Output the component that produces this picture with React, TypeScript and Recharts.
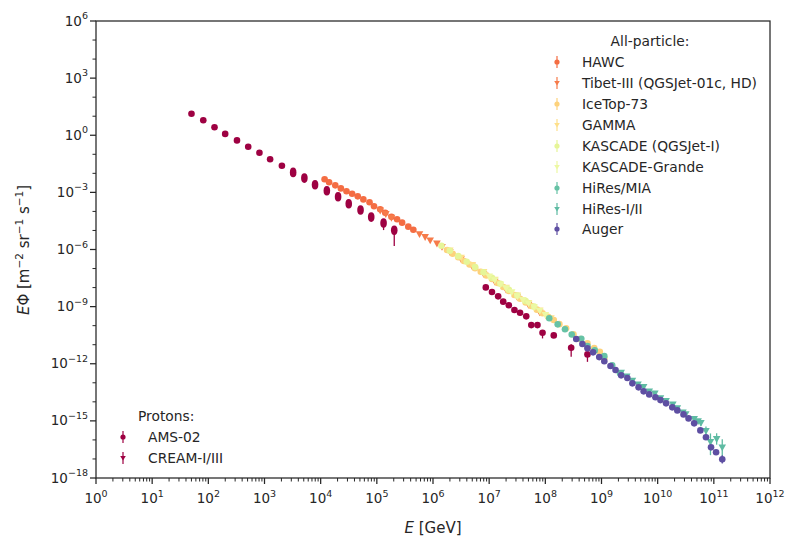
import React from 'react';
import { ScatterChart, Scatter, XAxis, YAxis, ErrorBar } from 'recharts';

// ── Data (log10 E [GeV], log10 EΦ) ──────────────────────────────────────────
const AMS_LOGE = [1.70, 1.91, 2.11, 2.30, 2.51, 2.71, 2.91, 3.10, 3.31];
const AMS_LOGF = [1.13, 0.79, 0.42, 0.07, -0.27, -0.60, -0.92, -1.26, -1.60];

const CREAM_LOGE = [3.51, 3.71, 3.90, 4.11, 4.31, 4.50, 4.71, 4.90, 5.12, 5.31];
const CREAM_LOGF = [-1.95, -2.25, -2.60, -2.91, -3.23, -3.60, -3.93, -4.29, -4.61, -4.99];
const CREAM_DOWN = [0.05, 0.06, 0.07, 0.1, 0.12, 0.15, 0.2, 0.25, 0.37, 0.82];
const CREAM_UP = [0.05, 0.06, 0.07, 0.08, 0.09, 0.1, 0.1, 0.12, 0.19, 0.19];

const PKNEE_LOGE = [6.94, 7.05, 7.16, 7.25, 7.35, 7.45, 7.55, 7.66, 7.75, 7.86, 7.95, 8.15, 8.46, 8.75];
const PKNEE_LOGF = [-7.99, -8.23, -8.46, -8.74, -8.93, -9.18, -9.32, -9.51, -9.97, -9.97, -10.37, -10.51, -11.16, -11.51];
const PKNEE_DOWN = [0.03, 0.03, 0.03, 0.03, 0.03, 0.04, 0.04, 0.05, 0.12, 0.12, 0.3, 0.12, 0.47, 0.39];
const PKNEE_UP = [0.03, 0.03, 0.03, 0.03, 0.03, 0.04, 0.04, 0.05, 0.08, 0.08, 0.12, 0.08, 0.19, 0.14];

const HAWC_LOGE = [4.07, 4.15, 4.26, 4.36, 4.46, 4.56, 4.66, 4.76, 4.87, 4.95, 5.06, 5.15, 5.26, 5.36, 5.45, 5.56, 5.65];
const HAWC_LOGF = [-2.31, -2.47, -2.63, -2.79, -2.94, -3.07, -3.21, -3.37, -3.52, -3.73, -3.89, -4.07, -4.28, -4.41, -4.59, -4.80, -4.96];

const TIBET_LOGE = [5.06, 5.16, 5.26, 5.76, 5.86, 5.95, 6.07, 6.16, 6.3, 6.5, 6.7, 6.9, 7.1, 7.3, 7.5, 7.7, 7.9];
const TIBET_LOGF = [-3.95, -4.13, -4.33, -5.19, -5.34, -5.52, -5.68, -5.86, -6.12, -6.50, -6.90, -7.28, -7.68, -8.10, -8.50, -8.90, -9.30];

const ICETOP_LOGE = [6.25, 6.35, 6.45, 6.55, 6.65, 6.75, 6.85, 6.95, 7.05, 7.15, 7.25, 7.35, 7.45, 7.55, 7.65, 7.75, 7.85, 7.95, 8.05, 8.15, 8.25, 8.37, 8.5, 8.62, 8.75, 8.87, 8.97, 9.05];
const ICETOP_LOGF = [-6.03, -6.22, -6.41, -6.60, -6.79, -6.98, -7.17, -7.36, -7.55, -7.76, -7.97, -8.18, -8.39, -8.59, -8.78, -8.97, -9.16, -9.35, -9.53, -9.70, -9.92, -10.14, -10.45, -10.70, -10.93, -11.18, -11.37, -11.72];

const GAMMA_LOGE = [6.3, 6.5, 6.7, 6.9, 7.1, 7.3, 7.5, 7.7, 7.9, 8.1];
const GAMMA_LOGF = [-6.04, -6.42, -6.81, -7.18, -7.58, -8.00, -8.41, -8.80, -9.20, -9.60];

const KASCADE_LOGE = [6.15, 6.3, 6.45, 6.6, 6.75, 6.9, 7.05, 7.2, 7.35, 7.5, 7.65, 7.8];
const KASCADE_LOGF = [-5.80, -6.07, -6.35, -6.64, -6.92, -7.20, -7.49, -7.80, -8.11, -8.42, -8.71, -9.00];

const KG_LOGE = [7.0, 7.1, 7.2, 7.3, 7.4, 7.5, 7.6, 7.7, 7.8, 7.9, 8.0];
const KG_LOGF = [-7.41, -7.61, -7.83, -8.03, -8.24, -8.45, -8.64, -8.83, -9.02, -9.22, -9.43];

const HRMIA_LOGE = [8.07, 8.22, 8.35, 8.47, 8.64, 8.75, 8.88, 9.05, 9.19, 9.33];
const HRMIA_LOGF = [-9.61, -9.93, -10.19, -10.46, -10.69, -11.07, -11.30, -11.60, -12.08, -12.50];

const HR12_LOGE = [9.35, 9.45, 9.55, 9.65, 9.75, 9.85, 9.95, 10.05, 10.15, 10.27, 10.35, 10.45, 10.5, 10.65, 10.72, 10.77, 10.86, 10.94, 11.05, 11.15];
const HR12_LOGF = [-12.47, -12.66, -12.88, -13.08, -13.21, -13.45, -13.56, -13.80, -13.95, -14.13, -14.33, -14.55, -14.64, -14.90, -15.01, -15.10, -15.52, -16.10, -15.95, -16.39];
const HR12_DOWN = [0.03, 0.03, 0.03, 0.03, 0.03, 0.03, 0.04, 0.04, 0.05, 0.05, 0.06, 0.07, 0.08, 0.1, 0.12, 0.15, 0.3, 0.7, 0.3, 0.67];
const HR12_UP = [0.03, 0.03, 0.03, 0.03, 0.03, 0.03, 0.04, 0.04, 0.05, 0.05, 0.06, 0.07, 0.07, 0.09, 0.1, 0.12, 0.22, 0.44, 0.3, 0.42];

const AUGER_LOGE = [8.55, 8.66, 8.75, 8.85, 8.96, 9.05, 9.16, 9.25, 9.35, 9.46, 9.55, 9.66, 9.75, 9.85, 9.96, 10.05, 10.15, 10.26, 10.35, 10.46, 10.55, 10.65, 10.76, 10.86, 10.95, 11.04, 11.15];
const AUGER_LOGF = [-10.70, -10.96, -11.19, -11.40, -11.65, -11.87, -12.12, -12.33, -12.61, -12.75, -13.03, -13.24, -13.45, -13.61, -13.76, -13.91, -14.08, -14.29, -14.45, -14.66, -14.87, -15.13, -15.50, -15.86, -16.39, -16.65, -17.02];
const AUGER_ERR = [0.02, 0.02, 0.02, 0.02, 0.02, 0.02, 0.02, 0.02, 0.02, 0.02, 0.02, 0.02, 0.02, 0.02, 0.02, 0.02, 0.03, 0.03, 0.03, 0.03, 0.04, 0.05, 0.06, 0.08, 0.12, 0.14, 0.22];

const X_DECADES = [0, 1, 2, 3, 4, 5, 6, 7, 8, 9, 10, 11, 12];
const Y_DECADES = [-18, -17, -16, -15, -14, -13, -12, -11, -10, -9, -8, -7, -6, -5, -4, -3, -2, -1, 0, 1, 2, 3, 4, 5, 6];

// ── Helpers ─────────────────────────────────────────────────────────────────
const INK = '#262626';
const FONT = '"DejaVu Sans", sans-serif';

function toPoints(logE: number[], logF: number[], down?: number[], up?: number[]) {
  return logE.map((e, i) => {
    const y = 10 ** logF[i];
    const d = down?.[i] ?? 0;
    const u = up?.[i] ?? down?.[i] ?? 0;
    return { x: 10 ** e, y, err: [y - y * 10 ** -d, y * 10 ** u - y] };
  });
}

const xTicks: number[] = [];
X_DECADES.forEach(d => {
  if (d === 12) { xTicks.push(10 ** d); return; }
  for (let m = 1; m <= 9; m++) xTicks.push(m * 10 ** d);
});
const yTicks = Y_DECADES.map(d => 10 ** d);

const sup = (e: number) => (e < 0 ? '\u2212' + Math.abs(e) : String(e));

function XTick({ x, y, payload }: any) {
  const v = payload.value;
  const e = Math.round(Math.log10(v));
  const major = Math.abs(v - 10 ** e) / v < 1e-6;
  return (
    <g>
      <line x1={x} x2={x} y1={y} y2={y + (major ? 6 : 3.5)} stroke={INK} strokeWidth={major ? 1.25 : 1} />
      {major && (
        <text x={x} y={y + 25} textAnchor="middle" fontFamily={FONT} fontSize={13.5} fill={INK}>
          10<tspan dy={-6.5} fontSize={9.5}>{sup(e)}</tspan>
        </text>
      )}
    </g>
  );
}

function YTick({ x, y, payload }: any) {
  const e = Math.round(Math.log10(payload.value));
  const major = e % 3 === 0;
  return (
    <g>
      <line x1={x} x2={x - (major ? 6 : 3.5)} y1={y} y2={y} stroke={INK} strokeWidth={major ? 1.25 : 1} />
      {major && (
        <text x={x - 8} y={y + 4.5} textAnchor="end" fontFamily={FONT} fontSize={13.5} fill={INK}>
          10<tspan dy={-6.5} fontSize={9.5}>{sup(e)}</tspan>
        </text>
      )}
    </g>
  );
}

type Kind = 'o' | 'v' | 'e';

function markerShape(kind: Kind, color: string, r = 3.3) {
  return (props: any) => {
    const { cx, cy } = props;
    if (cx == null || cy == null) return <g />;
    if (kind === 'o') return <circle cx={cx} cy={cy} r={r} fill={color} />;
    if (kind === 'e') return <ellipse cx={cx} cy={cy} rx={r} ry={r * 1.45} fill={color} />;
    const h = r * 1.15;
    return <path d={`M${cx - h},${cy - h * 0.75} L${cx + h},${cy - h * 0.75} L${cx},${cy + h * 1.05} Z`} fill={color} />;
  };
}

interface SeriesDef {
  name: string;
  kind: Kind;
  legend: 'o' | 'v';
  color: string;
  data: { x: number; y: number; err: number[] }[];
}

const SERIES: SeriesDef[] = [
  { name: 'AMS-02', kind: 'o', legend: 'o', color: '#9e0142', data: toPoints(AMS_LOGE, AMS_LOGF) },
  { name: 'CREAM-I/III', kind: 'e', legend: 'v', color: '#9e0142', data: toPoints(CREAM_LOGE, CREAM_LOGF, CREAM_DOWN, CREAM_UP) },
  { name: 'protons-knee', kind: 'o', legend: 'o', color: '#9e0142', data: toPoints(PKNEE_LOGE, PKNEE_LOGF, PKNEE_DOWN, PKNEE_UP) },
  { name: 'HAWC', kind: 'o', legend: 'o', color: '#f46d43', data: toPoints(HAWC_LOGE, HAWC_LOGF) },
  { name: 'Tibet-III (QGSJet-01c, HD)', kind: 'v', legend: 'v', color: '#f67b4a', data: toPoints(TIBET_LOGE, TIBET_LOGF) },
  { name: 'IceTop-73', kind: 'o', legend: 'o', color: '#fdd27c', data: toPoints(ICETOP_LOGE, ICETOP_LOGF) },
  { name: 'GAMMA', kind: 'v', legend: 'v', color: '#fee08b', data: toPoints(GAMMA_LOGE, GAMMA_LOGF) },
  { name: 'KASCADE (QGSJet-I)', kind: 'o', legend: 'o', color: '#e6f598', data: toPoints(KASCADE_LOGE, KASCADE_LOGF) },
  { name: 'KASCADE-Grande', kind: 'v', legend: 'v', color: '#edf8a3', data: toPoints(KG_LOGE, KG_LOGF) },
  { name: 'HiRes/MIA', kind: 'o', legend: 'o', color: '#66c2a5', data: toPoints(HRMIA_LOGE, HRMIA_LOGF) },
  { name: 'HiRes-I/II', kind: 'v', legend: 'v', color: '#5fbba3', data: toPoints(HR12_LOGE, HR12_LOGF, HR12_DOWN, HR12_UP) },
  { name: 'Auger', kind: 'o', legend: 'o', color: '#5e4fa2', data: toPoints(AUGER_LOGE, AUGER_LOGF, AUGER_ERR) },
];

const ALL_PARTICLE = SERIES.slice(3);
const PROTONS = SERIES.slice(0, 2);

function LegendMarker({ kind, color }: { kind: 'o' | 'v'; color: string }) {
  return (
    <svg width={10} height={14} style={{ display: 'block' }}>
      <line x1={5} x2={5} y1={1} y2={13} stroke={color} strokeWidth={1.2} />
      {kind === 'o'
        ? <circle cx={5} cy={7} r={2.6} fill={color} />
        : <path d="M2.2,5 L7.8,5 L5,9.6 Z" fill={color} />}
    </svg>
  );
}

function LegendRow({ s }: { s: SeriesDef }) {
  return (
    <div style={{ display: 'flex', alignItems: 'center', height: 20.9 }}>
      <LegendMarker kind={s.legend} color={s.color} />
      <span style={{ marginLeft: 20, whiteSpace: 'nowrap' }}>{s.name}</span>
    </div>
  );
}

export default function App() {
  return (
    <div style={{ position: 'absolute', left: 0, top: 0, width: 800, height: 550, background: '#fff', fontFamily: FONT, color: INK }}>
      <ScatterChart width={800} height={550} margin={{ top: 21, right: 30, bottom: 0, left: 0 }}>
        <XAxis
          type="number"
          dataKey="x"
          scale="log"
          domain={[1, 1e12]}
          allowDataOverflow
          ticks={xTicks}
          interval={0}
          tick={<XTick />}
          tickSize={0}
          tickMargin={0}
          tickLine={false}
          axisLine={false}
          height={72}
        />
        <YAxis
          type="number"
          dataKey="y"
          scale="log"
          domain={[1e-18, 1e6]}
          allowDataOverflow
          ticks={yTicks}
          interval={0}
          tick={<YTick />}
          tickSize={0}
          tickMargin={0}
          tickLine={false}
          axisLine={false}
          width={96}
        />
        {SERIES.map(s => (
          <Scatter key={s.name} name={s.name} data={s.data} shape={markerShape(s.kind, s.color)} isAnimationActive={false}>
            <ErrorBar dataKey="err" direction="y" width={0} stroke={s.color} strokeWidth={1.3} isAnimationActive={false} />
          </Scatter>
        ))}
      </ScatterChart>

      {/* axes frame */}
      <svg width={800} height={550} style={{ position: 'absolute', left: 0, top: 0, pointerEvents: 'none' }}>
        <rect x={96} y={21} width={674} height={457} fill="none" stroke={INK} strokeWidth={1.25} />
      </svg>

      {/* axis labels */}
      <div style={{ position: 'absolute', left: 333, width: 200, top: 519, textAlign: 'center', fontSize: 15 }}>
        <i>E</i> [GeV]
      </div>
      <div style={{ position: 'absolute', left: 21, top: 250, width: 0, height: 0 }}>
        <div style={{ position: 'absolute', transform: 'translate(-50%, -50%) rotate(-90deg)', whiteSpace: 'nowrap', fontSize: 15, lineHeight: '18px' }}>
          <i>E</i>Φ [m<sup style={{ fontSize: 10.5 }}>−2</sup> sr<sup style={{ fontSize: 10.5 }}>−1</sup> s<sup style={{ fontSize: 10.5 }}>−1</sup>]
        </div>
      </div>

      {/* all-particle legend */}
      <div style={{ position: 'absolute', left: 552, top: 31, fontSize: 13.8 }}>
        <div style={{ textAlign: 'center', height: 20.9, lineHeight: '20.9px', width: 196 }}>All-particle:</div>
        {ALL_PARTICLE.map(s => <LegendRow key={s.name} s={s} />)}
      </div>

      {/* protons legend */}
      <div style={{ position: 'absolute', left: 118, top: 406, fontSize: 13.8 }}>
        <div style={{ height: 20.9, lineHeight: '20.9px', paddingLeft: 20 }}>Protons:</div>
        {PROTONS.map(s => <LegendRow key={s.name} s={s} />)}
      </div>
    </div>
  );
}
